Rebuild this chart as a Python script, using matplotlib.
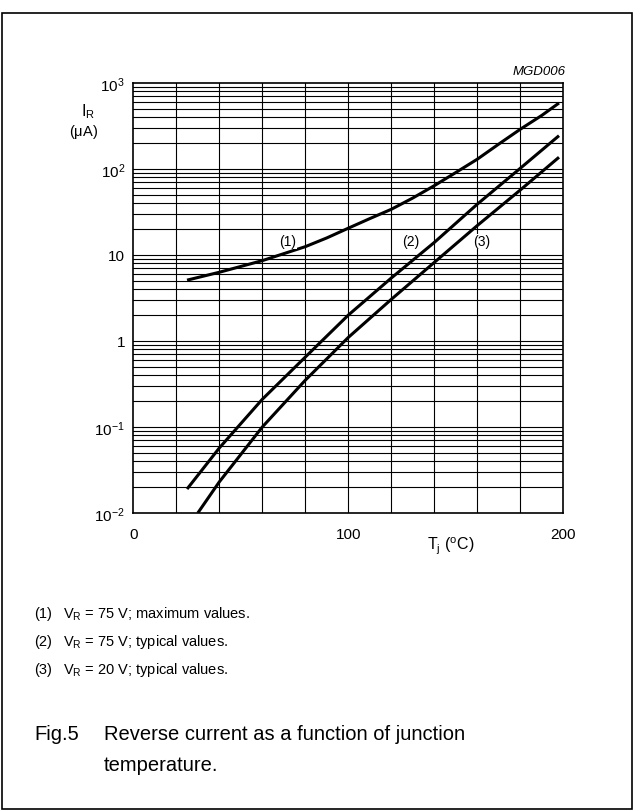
import numpy as np
import matplotlib
matplotlib.use('Agg')
import matplotlib.pyplot as plt
from matplotlib.patches import Rectangle
from matplotlib.ticker import FixedLocator, NullFormatter

plt.rcParams['font.family'] = ['Liberation Sans', 'DejaVu Sans']
plt.rcParams['mathtext.fontset'] = 'custom'
plt.rcParams['mathtext.rm'] = 'Liberation Sans'
plt.rcParams['mathtext.it'] = 'Liberation Sans:italic'

# ---------- data ----------
# (1) VR = 75 V, maximum values
t_max75 = [25, 40, 60, 80, 90, 100, 110, 120, 130, 140, 150, 160, 170, 180, 190, 198]
i_max75 = [5.1, 6.3, 8.6, 12.5, 15.8, 20.5, 26.5, 34, 46, 64, 91, 130, 195, 290, 420, 585]
# (2) VR = 75 V, typical values
t_typ75 = [25, 40, 60, 80, 100, 120, 140, 160, 180, 198]
i_typ75 = [0.019, 0.057, 0.21, 0.65, 2.0, 5.4, 14, 39, 102, 244]
# (3) VR = 20 V, typical values
t_typ20 = [30, 40, 60, 80, 100, 120, 140, 160, 180, 198]
i_typ20 = [0.010, 0.023, 0.10, 0.35, 1.1, 3.05, 8.2, 22, 57, 137]

curve_labels = ['(1)', '(2)', '(3)']
label_pos = [(72, 14.5), (129, 14.5), (162, 14.5)]

y_ticks = [1e-2, 1e-1, 1, 10, 1e2, 1e3]
y_ticklabels = [r'$10^{-2}$', r'$10^{-1}$', '1', '10', r'$10^2$', r'$10^3$']
x_ticks = [0, 100, 200]

notes = ['V$_\\mathregular{R}$ = 75 V; maximum values.',
         'V$_\\mathregular{R}$ = 75 V; typical values.',
         'V$_\\mathregular{R}$ = 20 V; typical values.']

W, H = 641, 812
fig = plt.figure(figsize=(W / 100, H / 100), dpi=100)


def fx(x):
    return x / W


def fy(y):
    return 1 - y / H


ax = fig.add_axes([fx(133.3), fy(514), fx(563.3) - fx(133.3), fy(84) - fy(514)])
ax.set_xlim(0, 200)
ax.set_yscale('log')
ax.set_ylim(1e-2, 1e3)

# grid
for xv in range(20, 200, 20):
    ax.axvline(xv, color='black', lw=0.8, zorder=1)
minor = [m * 10.0 ** e for e in range(-2, 3) for m in range(2, 10)]
for yv in minor + y_ticks[1:-1]:
    ax.axhline(yv, color='black', lw=0.8, zorder=1)

# curves
for t, i in [(t_max75, i_max75), (t_typ75, i_typ75), (t_typ20, i_typ20)]:
    ax.plot(t, i, color='black', lw=2.2, zorder=3, solid_capstyle='butt')

for lab, (xl, yl) in zip(curve_labels, label_pos):
    ax.text(xl, yl, lab, fontsize=10, ha='center', va='center', zorder=4,
            bbox=dict(facecolor='white', edgecolor='none', pad=0.3))

ax.yaxis.set_major_locator(FixedLocator(y_ticks))
ax.yaxis.set_minor_formatter(NullFormatter())
ax.set_yticklabels(y_ticklabels)
ax.set_xticks(x_ticks)
ax.tick_params(which='both', length=0, labelsize=11, pad=10)
ax.tick_params(axis='y', pad=6)
ax.minorticks_off()
for sp in ax.spines.values():
    sp.set_linewidth(1.2)

# axis labels
fig.text(fx(88), fy(112), r'I$_\mathregular{R}$', fontsize=11.5, ha='center', va='center')
fig.text(fx(84), fy(132), r'($\mathregular{\mu}$A)', fontsize=10.5, ha='center', va='center')
fig.text(fx(451), fy(546), r'T$_\mathregular{j}$ ($^\mathregular{o}$C)', fontsize=11.5,
         ha='center', va='center')
fig.text(fx(566), fy(72), 'MGD006', fontsize=9.5, style='italic', ha='right', va='center')

# notes
for k, note in enumerate(notes):
    yy = 614 + k * 28
    fig.text(fx(34), fy(yy), '(%d)' % (k + 1), fontsize=10.5, ha='left', va='center')
    fig.text(fx(63), fy(yy), note, fontsize=10.5, ha='left', va='center')

# caption
fig.text(fx(34), fy(735), 'Fig.5', fontsize=14.5, ha='left', va='center')
fig.text(fx(104), fy(735), 'Reverse current as a function of junction', fontsize=14.5,
         ha='left', va='center')
fig.text(fx(104), fy(766), 'temperature.', fontsize=14.5, ha='left', va='center')

# outer frame
fig.patches.append(Rectangle((fx(2), fy(810)), fx(632) - fx(2), fy(14) - fy(810),
                             transform=fig.transFigure, fill=False, edgecolor='black',
                             lw=1.2))

fig.savefig('out.png', dpi=100)
